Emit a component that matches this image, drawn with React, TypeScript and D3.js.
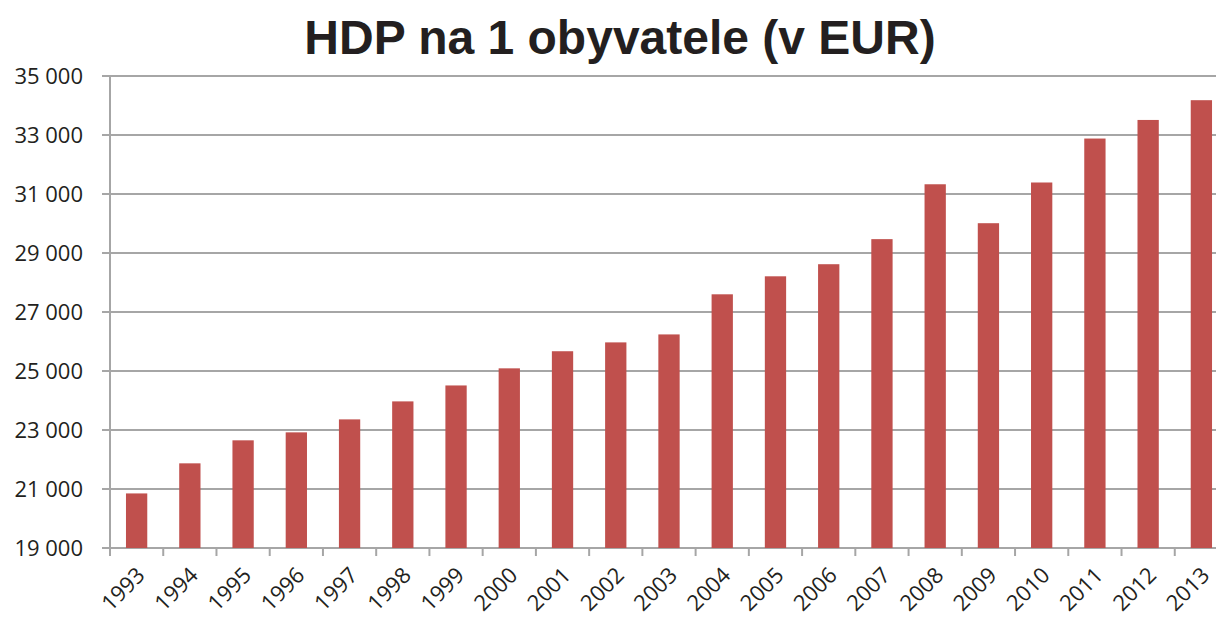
import React, { useEffect, useRef } from 'react';
import * as d3 from 'd3';

const years = ['1993', '1994', '1995', '1996', '1997', '1998', '1999', '2000', '2001', '2002', '2003',
  '2004', '2005', '2006', '2007', '2008', '2009', '2010', '2011', '2012', '2013'];
const gdp = [20850, 21870, 22650, 22920, 23360, 23970, 24510, 25090, 25670, 25970, 26240,
  27600, 28210, 28620, 29470, 31330, 30010, 31390, 32880, 33510, 34180];
const yTicks = [19000, 21000, 23000, 25000, 27000, 29000, 31000, 33000, 35000];
const title = 'HDP na 1 obyvatele (v EUR)';

const width = 1216, height = 619;
const margin = { top: 76, left: 110, bottom: 71 };
// plot runs past the right edge of the picture, like the original crop
const plotWidth = 1118;

const fmt = (v: number) => d3.format(',')(v).replace(',', ' ');

export default function App() {
  const ref = useRef<SVGSVGElement>(null);

  useEffect(() => {
    const svg = d3.select(ref.current);
    svg.selectAll('*').remove();
    const innerH = height - margin.top - margin.bottom;

    const x = d3.scaleBand().domain(years).range([0, plotWidth]).paddingInner(0.6).paddingOuter(0.3);
    const y = d3.scaleLinear().domain([19000, 35000]).range([innerH, 0]);

    svg.append('text')
      .attr('x', 620).attr('y', 54)
      .attr('text-anchor', 'middle')
      .style('font-family', '"Liberation Sans", Arial, sans-serif')
      .style('font-weight', 'bold').style('font-size', '48px')
      .style('fill', '#231f20')
      .text(title);

    const g = svg.append('g').attr('transform', `translate(${margin.left},${margin.top})`);

    // gridlines + y labels
    g.selectAll('line.grid').data(yTicks).enter().append('line')
      .attr('x1', -8).attr('x2', plotWidth)
      .attr('y1', d => y(d)).attr('y2', d => y(d))
      .style('stroke', '#a6a6a6').style('stroke-width', 2);

    g.selectAll('text.ylab').data(yTicks).enter().append('text')
      .attr('x', -27).attr('y', d => y(d))
      .attr('dy', '0.36em')
      .attr('text-anchor', 'end')
      .style('font-family', '"Open Sans", sans-serif').style('font-size', '22px')
      .style('fill', '#231f20')
      .text(d => fmt(d));

    g.append('line')
      .attr('x1', 0).attr('x2', 0).attr('y1', 0).attr('y2', innerH + 8)
      .style('stroke', '#a6a6a6').style('stroke-width', 2);

    // category ticks at band boundaries
    const step = x.step();
    g.selectAll('line.xtick').data(d3.range(years.length + 1)).enter().append('line')
      .attr('x1', i => i * step).attr('x2', i => i * step)
      .attr('y1', innerH).attr('y2', innerH + 8)
      .style('stroke', '#a6a6a6').style('stroke-width', 2);

    g.selectAll('rect.bar').data(years).enter().append('rect')
      .attr('x', d => x(d)!)
      .attr('width', x.bandwidth())
      .attr('y', (d, i) => y(gdp[i]))
      .attr('height', (d, i) => innerH - y(gdp[i]))
      .style('fill', '#c0504d');

    g.selectAll('text.xlab').data(years).enter().append('text')
      .attr('transform', d => `translate(${x(d)! + x.bandwidth() / 2 + 4},${innerH + 23}) rotate(-45)`)
      .attr('text-anchor', 'end')
      .attr('dy', '0.36em')
      .style('font-family', '"Open Sans", sans-serif').style('font-size', '22px')
      .style('fill', '#231f20')
      .text(d => d);
  }, []);

  return <svg ref={ref} width={width} height={height} style={{ display: 'block', position: 'absolute', left: 0, top: 0 }} />;
}
